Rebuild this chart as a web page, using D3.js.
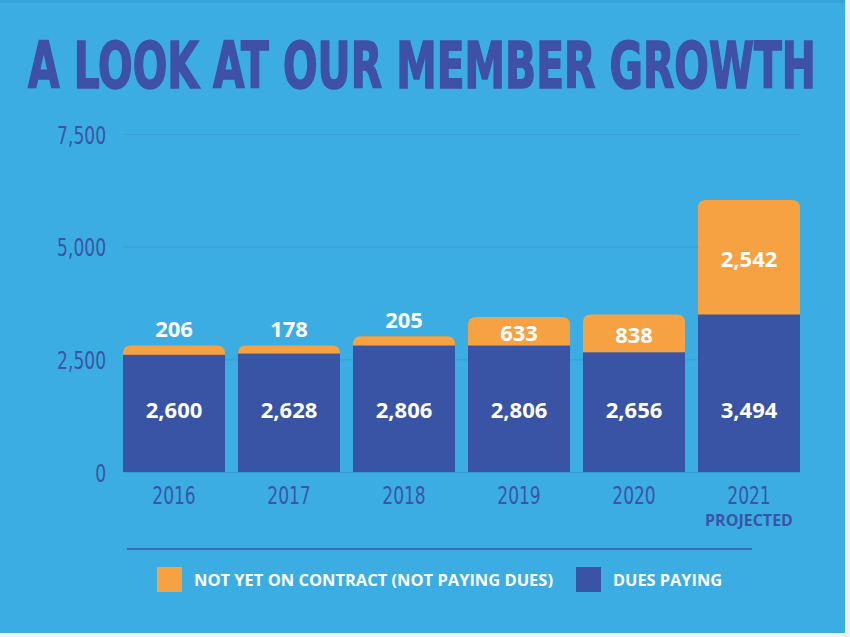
<!DOCTYPE html>
<meta charset="utf-8">
<html>
<head>
<script src="https://cdn.jsdelivr.net/npm/d3@7"></script>
<style>
  body { margin: 0; background: #eef3f9; }
  .tick text { font-family: "Liberation Sans Narrow", "DejaVu Sans Condensed", sans-serif; }
</style>
</head>
<body>
<div id="chart"></div>
<script>
// data
var years = ["2016", "2017", "2018", "2019", "2020", "2021"];
var duesPaying = [2600, 2628, 2806, 2806, 2656, 3494];
var notOnContract = [206, 178, 205, 633, 838, 2542];
var yTicks = [0, 2500, 5000, 7500];
var subLabels = ["", "", "", "", "", "PROJECTED"];
var legendLabels = ["NOT YET ON CONTRACT (NOT PAYING DUES)", "DUES PAYING"];

var bg = "#3badE3", dark = "#3953a5", orange = "#f6a142", axisCol = "#3a55a6";

var W = 850, H = 637;
var svg = d3.select("#chart").append("svg")
  .attr("width", W).attr("height", H);

// panel
svg.append("rect").attr("x", 0).attr("y", 0).attr("width", 845).attr("height", 633).attr("fill", bg);
svg.append("rect").attr("x", 0).attr("y", 0).attr("width", 845).attr("height", 3).attr("fill", "#35a2d8");

// title, squeezed horizontally to the width it has in the picture
var title = svg.append("text")
  .attr("x", 0).attr("y", 0)
  .style("font-family", "'Liberation Sans Narrow', 'DejaVu Sans Condensed', sans-serif")
  .style("font-weight", "bold").style("font-size", "64px")
  .attr("fill", "#3f50a8").attr("stroke", "#3f50a8").attr("stroke-width", 1.6)
  .text("A LOOK AT OUR MEMBER GROWTH");
var tw = title.node().getComputedTextLength();
title.attr("transform", "translate(28,88) scale(" + (788 / tw) + ",1)");

var x = d3.scaleBand().domain(years).range([116.5, 806.5]).paddingInner(0.113).paddingOuter(0.0565);
var y = d3.scaleLinear().domain([0, 7500]).range([472, 134]);

var squeeze = 0.76;

// y axis with grid lines
var yAxis = svg.append("g")
  .attr("transform", "translate(123,0)")
  .call(d3.axisLeft(y).tickValues(yTicks).tickFormat(d3.format(",")).tickSize(-677).tickPadding(17));
yAxis.select(".domain").remove();
yAxis.selectAll(".tick line").attr("stroke", "#3aa0d8").attr("stroke-width", 1.2);
yAxis.selectAll(".tick text").attr("fill", axisCol).style("font-size", "25px").attr("dy", "0.36em")
  .attr("x", -17 / squeeze).attr("transform", "scale(" + squeeze + ",1)");

var rows = years.map(function(yr, i) {
  return { year: yr, dues: duesPaying[i], notyet: notOnContract[i], sub: subLabels[i] };
});

// path for a bar with rounded top corners
function topRounded(x0, y0, w, h, r) {
  return "M" + x0 + "," + (y0 + h) +
    "V" + (y0 + r) + "Q" + x0 + "," + y0 + " " + (x0 + r) + "," + y0 +
    "H" + (x0 + w - r) + "Q" + (x0 + w) + "," + y0 + " " + (x0 + w) + "," + (y0 + r) +
    "V" + (y0 + h) + "Z";
}

var bars = svg.append("g").selectAll("g").data(rows).enter().append("g");

bars.append("path")
  .attr("fill", orange)
  .attr("d", function(d) {
    var top = y(d.dues + d.notyet);
    return topRounded(x(d.year), top, x.bandwidth(), y(0) - top, 8);
  });

bars.append("rect")
  .attr("fill", dark)
  .attr("x", function(d) { return x(d.year); })
  .attr("y", function(d) { return y(d.dues); })
  .attr("width", x.bandwidth())
  .attr("height", function(d) { return y(0) - y(d.dues); });

var valueFont = "'Open Sans', 'Noto Sans', sans-serif";

bars.append("text")
  .attr("x", function(d) { return x(d.year) + x.bandwidth() / 2; })
  .attr("y", 410).attr("dy", "0.36em")
  .attr("text-anchor", "middle").attr("fill", "#fff")
  .style("font-family", valueFont).style("font-weight", "bold").style("font-size", "22px")
  .text(function(d) { return d3.format(",")(d.dues); });

bars.append("text")
  .attr("x", function(d) { return x(d.year) + x.bandwidth() / 2; })
  .attr("y", function(d) {
    var top = y(d.dues + d.notyet), bot = y(d.dues);
    return (bot - top > 25) ? (top + bot) / 2 + 2 : top - 16;
  })
  .attr("dy", "0.36em")
  .attr("text-anchor", "middle").attr("fill", "#fff")
  .style("font-family", valueFont).style("font-weight", "bold").style("font-size", "22px")
  .text(function(d) { return d3.format(",")(d.notyet); });

// x axis labels
var xAxis = svg.append("g")
  .attr("transform", "translate(0,472)")
  .call(d3.axisBottom(x).tickSize(0).tickPadding(14));
xAxis.select(".domain").remove();
xAxis.selectAll(".tick text").attr("fill", axisCol).style("font-size", "25px")
  .attr("transform", "scale(" + squeeze + ",1)");

bars.append("text")
  .attr("x", function(d) { return x(d.year) + x.bandwidth() / 2; })
  .attr("y", 526)
  .attr("text-anchor", "middle").attr("fill", axisCol)
  .style("font-family", valueFont).style("font-weight", "bold").style("font-size", "16px")
  .text(function(d) { return d.sub; });

// legend
svg.append("line")
  .attr("x1", 127).attr("x2", 752).attr("y1", 549).attr("y2", 549)
  .attr("stroke", "#3b6cc0").attr("stroke-width", 2);

var legendItems = [
  { label: legendLabels[0], color: orange, x: 157, tx: 194, len: 359 },
  { label: legendLabels[1], color: dark, x: 576, tx: 613, len: 109 }
];
var lg = svg.append("g").selectAll("g").data(legendItems).enter().append("g");
lg.append("rect")
  .attr("x", function(d) { return d.x; }).attr("y", 567)
  .attr("width", 25).attr("height", 25)
  .attr("fill", function(d) { return d.color; });
lg.append("text")
  .attr("x", function(d) { return d.tx; }).attr("y", 580).attr("dy", "0.36em")
  .attr("textLength", function(d) { return d.len; }).attr("lengthAdjust", "spacingAndGlyphs")
  .attr("fill", "#fff")
  .style("font-family", valueFont).style("font-weight", "bold").style("font-size", "16px")
  .text(function(d) { return d.label; });
</script>
</body>
</html>
